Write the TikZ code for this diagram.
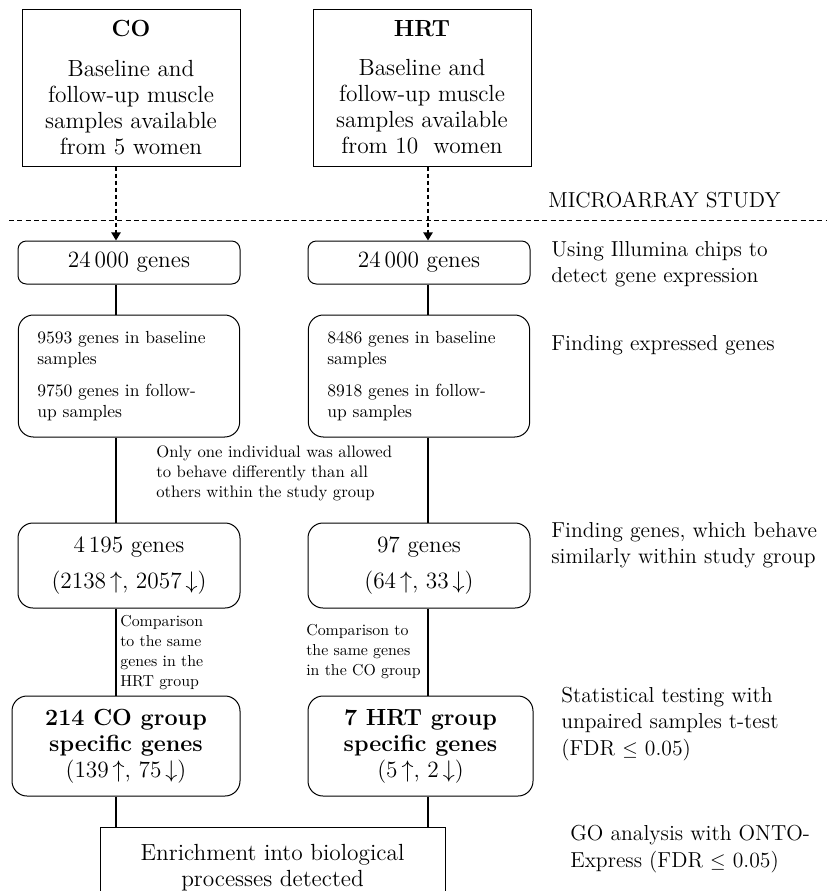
\documentclass[tikz,border=0pt]{standalone}
\usetikzlibrary{shapes, arrows.meta, positioning, calc}
\usepackage{amsmath}

\begin{document}
\begin{tikzpicture}[
    x=0.6pt, y=-0.6pt,
    >=Triangle,
    src/.style={rectangle, draw, line width=0.6pt, minimum width=130.8pt, minimum height=94.2pt, align=center, font=\fontsize{14}{15.6}\selectfont},
    gene/.style={rectangle, rounded corners=5pt, draw, line width=0.6pt, minimum width=133.2pt, minimum height=25.8pt, font=\fontsize{14}{15.6}\selectfont},
    expr/.style={rectangle, rounded corners=9pt, draw, line width=0.6pt, text width=110pt, inner xsep=11.4pt, minimum height=73.2pt, align=left, font=\fontsize{10.5}{12.6}\selectfont},
    simbox/.style={rectangle, rounded corners=9pt, draw, line width=0.6pt, minimum width=133.2pt, minimum height=51pt, align=center, font=\fontsize{14}{15.6}\selectfont},
    specbox/.style={rectangle, rounded corners=9pt, draw, line width=0.6pt, minimum height=60pt, align=center, font=\fontsize{14}{15.6}\selectfont},
    note/.style={anchor=west, align=left, inner xsep=0pt, font=\fontsize{9.5}{12}\selectfont},
    sidetext/.style={anchor=west, align=left, inner xsep=0pt, font=\fontsize{13}{15.8}\selectfont},
    flow/.style={line width=1pt},
    feed/.style={->, line width=0.8pt, dash pattern=on 2.4pt off 1.8pt}
]
\useasboundingbox (0, 0) rectangle (827, 891);
\coordinate (ColA) at (116, 0);
\coordinate (ColB) at (428, 0);

% Groups
\node (CO) at (131, 87.5) [src] {{\bfseries CO}\\[8pt]Baseline and\\follow-up muscle\\samples available\\from 5 women};
\node (HRT) at (422, 87.5) [src] {{\bfseries HRT}\\[8pt]Baseline and\\follow-up muscle\\samples available\\from 10\ \ women};

% Microarray study
\draw[line width=0.6pt, dash pattern=on 3pt off 2pt] (9, 220) -- (827, 220);
\node (Study) at (548, 200) [sidetext] {MICROARRAY STUDY};

\node (ChipCO) at (129, 262.5) [gene] {24\,000 genes};
\node (ChipHRT) at (419, 262.5) [gene] {24\,000 genes};
\node (ChipNote) at (551, 264) [sidetext] {Using Illumina chips to\\detect gene expression};
\draw[feed] (CO.south -| ColA) -- (ChipCO.north -| ColA);
\draw[feed] (HRT.south -| ColB) -- (ChipHRT.north -| ColB);

% Expressed genes
\node (ExpCO) at (129, 376) [expr] {9593 genes in baseline\\samples\\[7pt]9750 genes in follow-\\up samples};
\node (ExpHRT) at (419, 376) [expr] {8486 genes in baseline\\samples\\[7pt]8918 genes in follow-\\up samples};
\node (ExpNote) at (551, 345) [sidetext] {Finding expressed genes};
\draw[flow] (ChipCO.south -| ColA) -- (ExpCO.north -| ColA);
\draw[flow] (ChipHRT.south -| ColB) -- (ExpHRT.north -| ColB);

% Similar behaviour
\node (Rule) at (156, 473) [note, font=\fontsize{10}{12}\selectfont] {Only one individual was allowed\\to behave differently than all\\others within the study group};
\node (SimCO) at (129, 565.5) [simbox] {4\,195 genes\\[6pt](2138\,$\uparrow$, 2057\,$\downarrow$)};
\node (SimHRT) at (419, 565.5) [simbox] {97 genes\\[6pt](64\,$\uparrow$, 33\,$\downarrow$)};
\node (SimNote) at (551, 545) [sidetext] {Finding genes, which behave\\similarly within study group};
\draw[flow] (ExpCO.south -| ColA) -- (SimCO.north -| ColA);
\draw[flow] (ExpHRT.south -| ColB) -- (SimHRT.north -| ColB);

% Group specific genes
\node (CmpCO) at (120, 653) [note] {Comparison\\to the same\\genes in the\\HRT group};
\node (CmpHRT) at (306, 652) [note] {Comparison to\\the same genes\\in the CO group};
\node (SpecCO) at (126, 746) [specbox, minimum width=136.8pt] {\textbf{214 CO group}\\\textbf{specific genes}\\(139\,$\uparrow$, 75\,$\downarrow$)};
\node (SpecHRT) at (420.5, 746) [specbox, minimum width=135pt] {\textbf{7 HRT group}\\\textbf{specific genes}\\(5\,$\uparrow$, 2\,$\downarrow$)};
\node (TestNote) at (561, 724) [sidetext] {Statistical testing with\\unpaired samples t-test\\(FDR $\leq$ 0.05)};
\draw[flow] (SimCO.south -| ColA) -- (SpecCO.north -| ColA);
\draw[flow] (SimHRT.south -| ColB) -- (SpecHRT.north -| ColB);

% GO analysis
\node (Enrich) at (272.5, 827) [rectangle, draw, line width=0.6pt, anchor=north, minimum width=207pt, inner ysep=10pt, align=center, font=\fontsize{14}{15.6}\selectfont] {Enrichment into biological\\processes detected};
\node (GoNote) at (570, 849) [sidetext] {GO analysis with ONTO-\\Express (FDR $\leq$ 0.05)};
\draw[flow] (SpecCO.south -| ColA) -- (Enrich.north -| ColA);
\draw[flow] (SpecHRT.south -| ColB) -- (Enrich.north -| ColB);
\end{tikzpicture}
\end{document}
